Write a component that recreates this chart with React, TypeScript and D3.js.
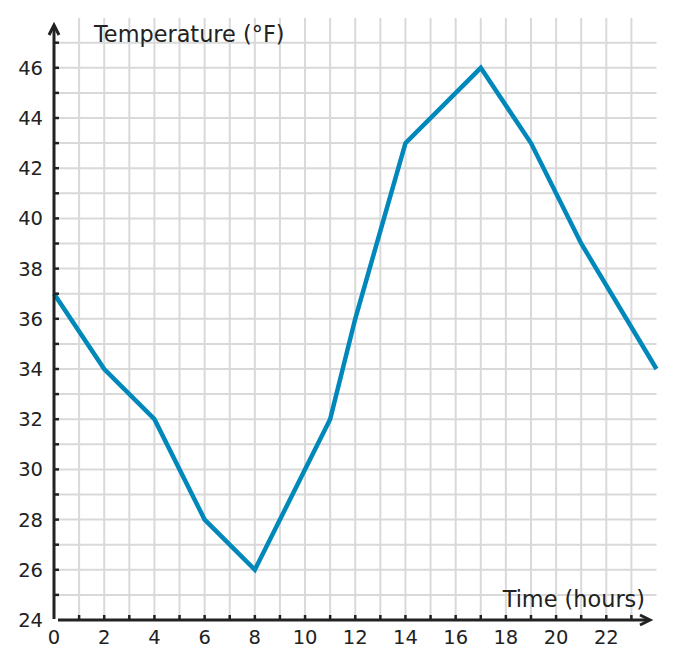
import { useEffect, useRef } from "react";
import * as d3 from "d3";

// hours and temperatures
const hours = [0, 2, 4, 6, 8, 11, 12, 14, 17, 19, 21, 24];
const temps = [37, 34, 32, 28, 26, 32, 36, 43, 46, 43, 39, 34];
const xTickLabels = [0, 2, 4, 6, 8, 10, 12, 14, 16, 18, 20, 22];
const yTickLabels = [24, 26, 28, 30, 32, 34, 36, 38, 40, 42, 44, 46];

const W = 674;
const H = 668;

export default function App() {
  const ref = useRef<SVGSVGElement>(null);

  useEffect(() => {
    if (!ref.current) return;
    const svg = d3.select(ref.current);
    svg.selectAll("*").remove();

    const x = d3.scaleLinear().domain([0, 24]).range([54, 656.5]);
    const y = d3.scaleLinear().domain([24, 47]).range([620, 42.7]);
    const font = "DejaVu Sans, sans-serif";
    const axisColor = "#222";

    // grid
    const grid = svg.append("g").attr("stroke", "#d9d9d9").attr("stroke-width", 2);
    grid.selectAll("line.v")
      .data(d3.range(1, 24))
      .join("line")
      .attr("x1", d => x(d)).attr("x2", d => x(d))
      .attr("y1", 18).attr("y2", y(24));
    grid.selectAll("line.h")
      .data(d3.range(25, 48))
      .join("line")
      .attr("x1", x(0)).attr("x2", x(24))
      .attr("y1", d => y(d)).attr("y2", d => y(d));

    // data line
    const line = d3.line<number>()
      .x((_, i) => x(hours[i]))
      .y(d => y(d));
    svg.append("path")
      .datum(temps)
      .attr("d", line)
      .attr("fill", "none")
      .attr("stroke", "#0088bb")
      .attr("stroke-width", 4.5)
      .attr("stroke-linejoin", "miter");

    // axes
    const ax = svg.append("g").attr("stroke", axisColor).attr("stroke-width", 3).attr("fill", "none");
    ax.append("line").attr("x1", x(0)).attr("x2", x(0)).attr("y1", y(24) - 1).attr("y2", 26);
    ax.append("line").attr("x1", x(0) + 4).attr("x2", 649).attr("y1", y(24)).attr("y2", y(24));
    ax.append("path").attr("d", `M${x(0) - 5},${35} L${x(0)},${25} L${x(0) + 5},${35}`)
      .attr("stroke-linejoin", "miter");
    ax.append("path").attr("d", `M${640},${y(24) - 5} L${650},${y(24)} L${640},${y(24) + 5}`);

    // ticks
    const tk = svg.append("g").attr("stroke", axisColor).attr("stroke-width", 2.5);
    tk.selectAll("line.xt")
      .data(d3.range(1, 24))
      .join("line")
      .attr("x1", d => x(d)).attr("x2", d => x(d))
      .attr("y1", y(24)).attr("y2", y(24) - 5);
    tk.selectAll("line.yt")
      .data(d3.range(25, 48))
      .join("line")
      .attr("x1", x(0)).attr("x2", x(0) + 5)
      .attr("y1", d => y(d)).attr("y2", d => y(d));

    // tick labels
    svg.append("g").selectAll("text")
      .data(xTickLabels)
      .join("text")
      .attr("x", d => x(d))
      .attr("y", 644)
      .attr("text-anchor", "middle")
      .attr("font-family", font)
      .attr("font-size", 19.5)
      .attr("fill", axisColor)
      .text(d => d);
    svg.append("g").selectAll("text")
      .data(yTickLabels)
      .join("text")
      .attr("x", 43)
      .attr("y", d => y(d) + 7)
      .attr("text-anchor", "end")
      .attr("font-family", font)
      .attr("font-size", 19.5)
      .attr("fill", axisColor)
      .text(d => d);

    // axis titles
    svg.append("text")
      .attr("x", 94).attr("y", 42)
      .attr("font-family", font).attr("font-size", 22.4)
      .attr("fill", axisColor)
      .text("Temperature (°F)");
    svg.append("text")
      .attr("x", 645).attr("y", 607)
      .attr("text-anchor", "end")
      .attr("font-family", font).attr("font-size", 22.4)
      .attr("fill", axisColor)
      .text("Time (hours)");
  }, []);

  return (
    <svg ref={ref} width={W} height={H}
      style={{ position: "absolute", left: 0, top: 0, background: "#fff" }} />
  );
}
